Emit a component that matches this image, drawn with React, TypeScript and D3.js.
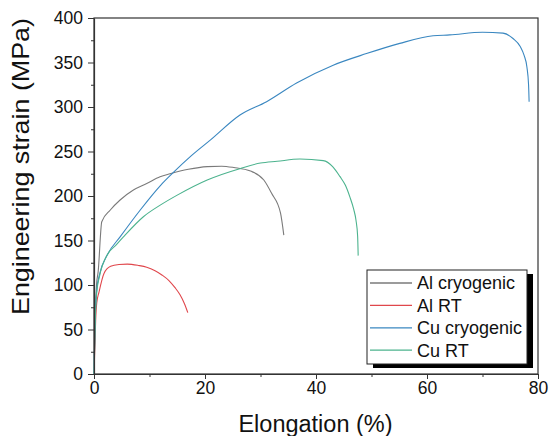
import * as d3 from "d3";
import { useRef, useEffect } from "react";

// Al cryogenic
const alCryoX = [0, 0.1, 0.25, 0.45, 0.75, 1.4, 2.9, 4.7, 7.1, 9.5, 11.9, 13.7, 17, 20.4, 23, 25.2, 28.2, 30.6, 32, 33.6, 34.2];
const alCryoY = [0, 30, 70, 100, 115, 171, 184, 195.5, 206.7, 214, 221.7, 225, 230, 233, 233.5, 232, 228, 218, 203, 181, 156];

// Al RT
const alRtX = [0, 0.15, 0.3, 0.5, 0.9, 1.8, 3, 4.5, 6, 8, 9.5, 11, 12.3, 13.5, 14.6, 15.5, 16.3, 16.9];
const alRtY = [0, 30, 60, 80, 92, 113, 121, 123, 123.5, 122, 120, 116, 111, 105, 97, 89, 79, 69];

// Cu cryogenic
const cuCryoX = [0, 0.1, 0.25, 0.5, 1, 2.4, 4.7, 8.3, 12, 14.4, 17.5, 21, 26.3, 31.1, 36.5, 43.1, 49.1, 55.1, 61.1, 64.1, 70, 73.7, 75.5, 76.8, 77.5, 78, 78.3, 78.4];
const cuCryoY = [0, 30, 70, 95, 112, 134, 154, 184, 212, 227, 245, 263, 291, 306, 327, 347, 360, 371.5, 380, 381, 384, 383, 377, 368, 358, 345, 325, 306];

// Cu RT
const cuRtX = [0, 0.1, 0.25, 0.5, 1, 2.4, 4, 5.3, 8.9, 12, 15, 20.4, 26.4, 30, 33, 37.1, 41.3, 43, 44.3, 45.3, 46.1, 46.8, 47.2, 47.5, 47.6];
const cuRtY = [0, 25, 65, 92, 110, 134, 145, 154, 176.7, 190, 201, 218, 231, 237, 239, 241.5, 239.7, 233, 222, 212, 199, 185, 173, 155, 133];

const seriesNames = ["Al cryogenic", "Al RT", "Cu cryogenic", "Cu RT"];
const seriesColors = ["#7a7a7a", "#e0474c", "#3a87c0", "#4cb38e"];
const xTicks = [0, 20, 40, 60, 80];
const yTicks = [0, 50, 100, 150, 200, 250, 300, 350, 400];

function App() {
  const svgRef = useRef<SVGSVGElement>(null);

  useEffect(() => {
    const WIDTH = 557;
    const HEIGHT = 436;
    const left = 94, right = 538, top = 18, bottom = 374;
    const font = "'Liberation Sans', Arial, sans-serif";

    const svg = d3.select(svgRef.current)
      .attr("width", WIDTH)
      .attr("height", HEIGHT);
    svg.selectAll("*").remove();

    const x = d3.scaleLinear().domain([0, 80]).range([left, right]);
    const y = d3.scaleLinear().domain([0, 400]).range([bottom, top]);

    // frame
    svg.append("rect")
      .attr("x", left).attr("y", top)
      .attr("width", right - left).attr("height", bottom - top)
      .attr("fill", "white").attr("stroke", "#333").attr("stroke-width", 1.2);

    // curves
    const data = [
      [alCryoX, alCryoY],
      [alRtX, alRtY],
      [cuCryoX, cuCryoY],
      [cuRtX, cuRtY],
    ];
    const line = d3.line<[number, number]>()
      .x(d => x(d[0]))
      .y(d => y(d[1]))
      .curve(d3.curveMonotoneX);

    data.forEach(([xs, ys], i) => {
      const pts = xs.map((v, j) => [v, ys[j]] as [number, number]);
      svg.append("path")
        .attr("d", line(pts))
        .attr("fill", "none")
        .attr("stroke", seriesColors[i])
        .attr("stroke-width", 1.1);
    });

    // x axis
    const xAxis = svg.append("g")
      .attr("transform", `translate(0,${bottom})`)
      .call(d3.axisBottom(x).tickValues(xTicks).tickSize(5).tickPadding(3).tickSizeOuter(0));
    svg.append("g")
      .attr("transform", `translate(0,${bottom})`)
      .call(d3.axisBottom(x).tickValues([10, 30, 50, 70]).tickSize(3).tickFormat(() => "").tickSizeOuter(0))
      .select(".domain").remove();

    // y axis
    const yAxis = svg.append("g")
      .attr("transform", `translate(${left},0)`)
      .call(d3.axisLeft(y).tickValues(yTicks).tickSize(6).tickPadding(5).tickSizeOuter(0));
    svg.append("g")
      .attr("transform", `translate(${left},0)`)
      .call(d3.axisLeft(y).tickValues(d3.range(25, 400, 50)).tickSize(3).tickFormat(() => "").tickSizeOuter(0))
      .select(".domain").remove();

    [xAxis, yAxis].forEach(g => {
      g.select(".domain").attr("stroke", "#333").attr("stroke-width", 1.2);
      g.selectAll("text").attr("font-family", font).attr("font-size", 17.5).attr("fill", "#111");
    });
    svg.selectAll(".tick line").attr("stroke", "#333");

    // axis titles
    svg.append("text")
      .attr("x", 315.5).attr("y", 432)
      .attr("text-anchor", "middle")
      .attr("font-family", font).attr("font-size", 23.5).attr("fill", "#111")
      .text("Elongation (%)");
    svg.append("text")
      .attr("transform", "translate(29,166.5) rotate(-90)")
      .attr("text-anchor", "middle")
      .attr("font-family", font).attr("font-size", 24).attr("fill", "#111")
      .attr("textLength", 297).attr("lengthAdjust", "spacingAndGlyphs")
      .text("Engineering strain (MPa)");

    // legend
    const lg = svg.append("g");
    lg.append("rect")
      .attr("x", 373).attr("y", 274).attr("width", 160).attr("height", 94)
      .attr("fill", "black");
    lg.append("rect")
      .attr("x", 367).attr("y", 270).attr("width", 160).attr("height", 94)
      .attr("fill", "white").attr("stroke", "#222").attr("stroke-width", 1);
    seriesNames.forEach((name, i) => {
      const cy = 283 + i * 22.4;
      lg.append("line")
        .attr("x1", 370).attr("x2", 412).attr("y1", cy).attr("y2", cy)
        .attr("stroke", seriesColors[i]).attr("stroke-width", 1.3);
      lg.append("text")
        .attr("x", 417).attr("y", cy + 6.3)
        .attr("font-family", font).attr("font-size", 18).attr("fill", "#111")
        .text(name);
    });
  }, []);

  return (
    <div>
      <svg ref={svgRef} style={{ position: "absolute", left: 0, top: 0 }} />
    </div>
  );
}

export default App;
